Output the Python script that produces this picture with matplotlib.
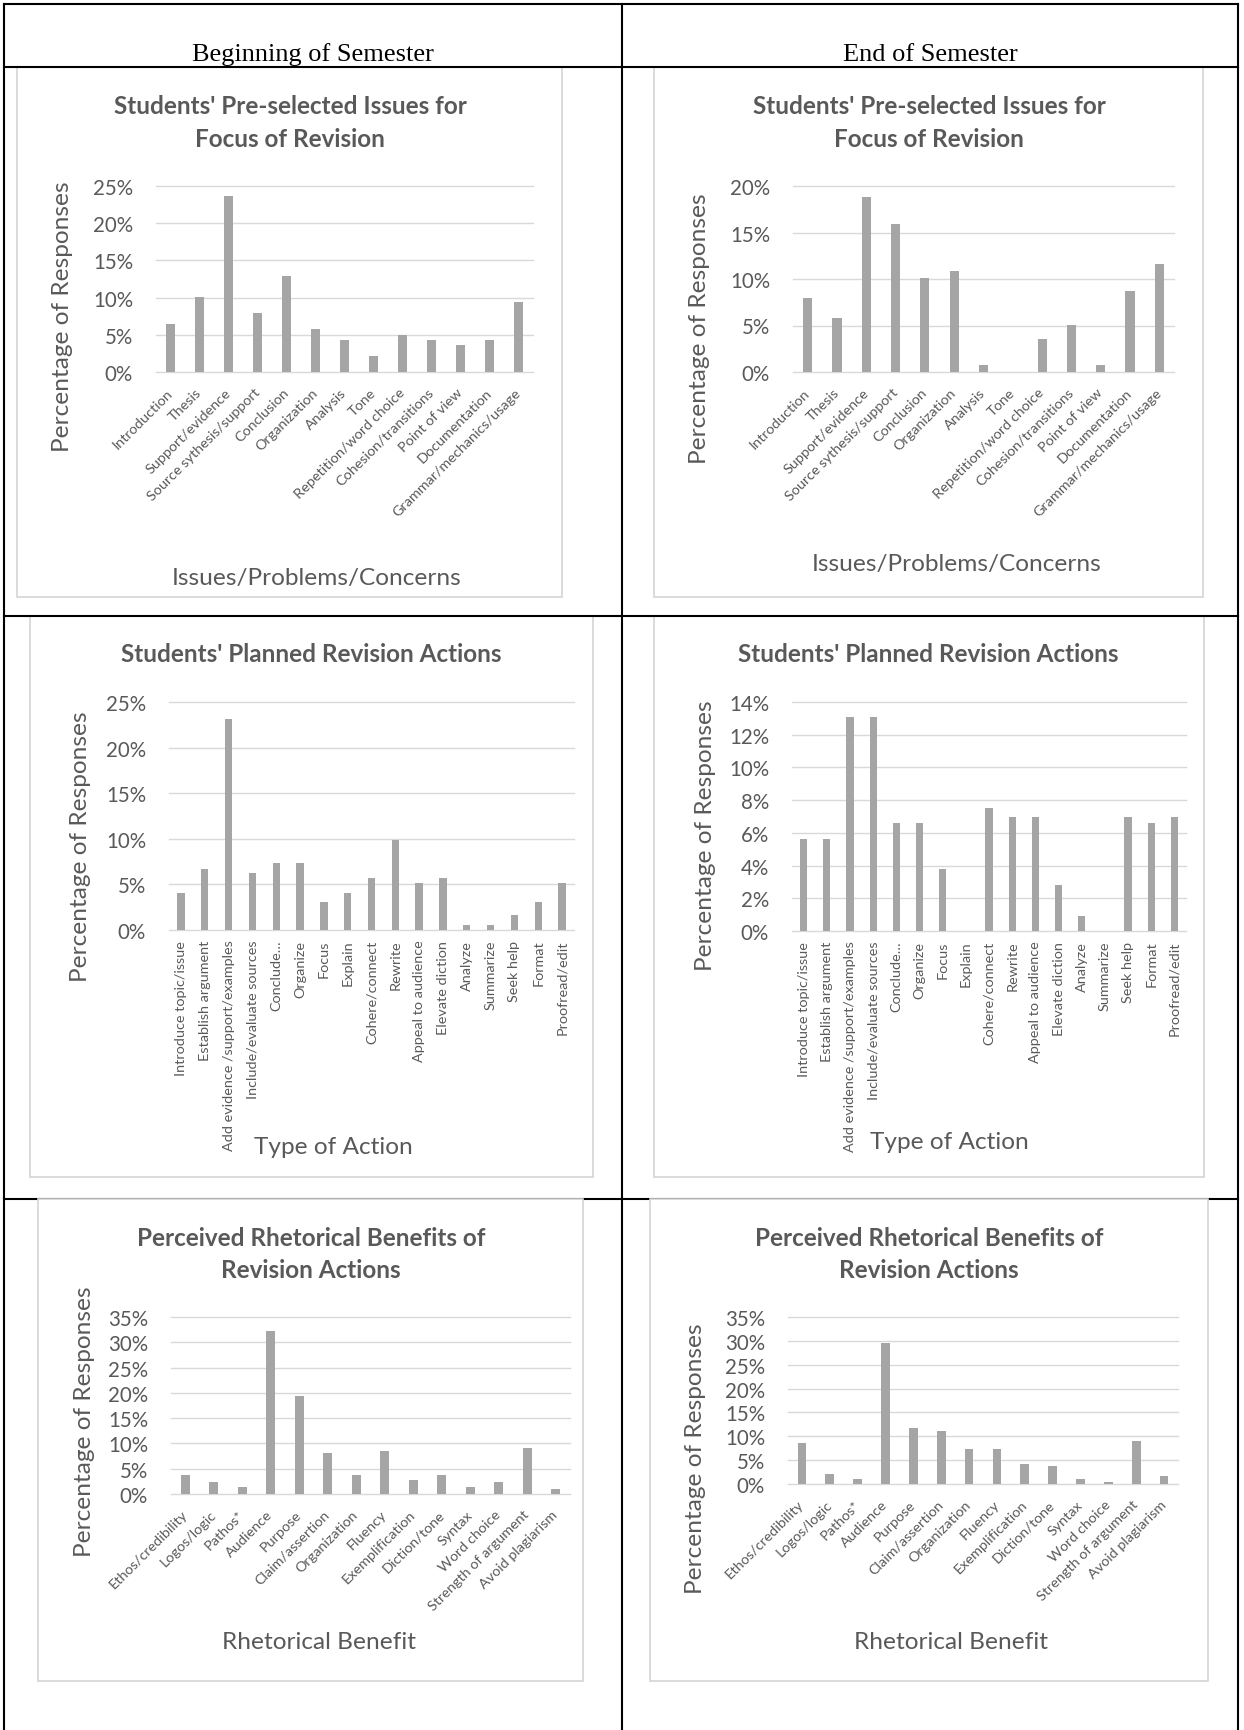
import matplotlib
matplotlib.use("Agg")
import matplotlib.pyplot as plt
from matplotlib.lines import Line2D
from matplotlib.patches import Rectangle
from matplotlib.ticker import PercentFormatter, MultipleLocator

plt.rcParams['font.family'] = ['Lato', 'DejaVu Sans']

W, H = 1244, 1731
TEXT = "#595959"
BAR = "#A5A5A5"
GRID = "#D9D9D9"

# ---- data (percent of responses) ----
issues = ["Introduction", "Thesis", "Support/evidence", "Source sythesis/support",
          "Conclusion", "Organization", "Analysis", "Tone", "Repetition/word choice",
          "Cohesion/transitions", "Point of view", "Documentation",
          "Grammar/mechanics/usage"]
issues_begin = [6.5, 10.1, 23.7, 7.9, 12.9, 5.8, 4.3, 2.2, 5.0, 4.3, 3.6, 4.3, 9.4]
issues_end = [8.0, 5.8, 18.8, 15.9, 10.1, 10.9, 0.7, 0.0, 3.6, 5.1, 0.7, 8.7, 11.6]

actions = ["Introduce topic/issue", "Establish argument", "Add evidence /support/examples",
           "Include/evaluate sources", "Conclude\u2026", "Organize", "Focus", "Explain",
           "Cohere/connect", "Rewrite", "Appeal to audience", "Elevate diction",
           "Analyze", "Summarize", "Seek help", "Format", "Proofread/edit"]
actions_begin = [4.1, 6.7, 23.1, 6.2, 7.3, 7.3, 3.1, 4.1, 5.7, 9.9, 5.2, 5.7,
                 0.5, 0.5, 1.6, 3.1, 5.2]
actions_end = [5.6, 5.6, 13.1, 13.1, 6.6, 6.6, 3.8, 0.0, 7.5, 7.0, 7.0, 2.8,
               0.9, 0.0, 7.0, 6.6, 7.0]

benefits = ["Ethos/credibility", "Logos/logic", "Pathos*", "Audience", "Purpose",
            "Claim/assertion", "Organization", "Fluency", "Exemplification",
            "Diction/tone", "Syntax", "Word choice", "Strength of argument",
            "Avoid plagiarism"]
benefits_begin = [3.8, 2.4, 1.4, 32.2, 19.4, 8.1, 3.8, 8.5, 2.8, 3.8, 1.4, 2.4, 9.0, 0.9]
benefits_end = [8.6, 2.1, 1.0, 29.6, 11.7, 11.2, 7.4, 7.4, 4.2, 3.7, 1.0, 0.5, 9.0, 1.6]


def fx(x):
    return x / W


def fy(y):
    return 1 - y / H


fig = plt.figure(figsize=(W / 100, H / 100), dpi=100)


def hline(y, x0, x1, z):
    fig.add_artist(Line2D([fx(x0), fx(x1)], [fy(y), fy(y)], color="black",
                          lw=1.5, transform=fig.transFigure, zorder=z))


def vline(x, y0, y1, z):
    fig.add_artist(Line2D([fx(x), fx(x)], [fy(y0), fy(y1)], color="black",
                          lw=1.5, transform=fig.transFigure, zorder=z))


# table grid
hline(5, 3.5, 1238, -1)
hline(68, 3.5, 1238, -1)
hline(617, 3.5, 1238, -1)
hline(1200, 3.5, 1238, -3)
vline(3.5, 5, H, -1)
vline(622, 5, H, -1)
vline(1238, 5, H, -1)

fig.text(fx(313), fy(61), "Beginning of Semester", family="Liberation Serif",
         fontsize=19, ha="center", va="baseline", color="black")
fig.text(fx(930), fy(61), "End of Semester", family="Liberation Serif",
         fontsize=19, ha="center", va="baseline", color="black")


def chart(box, plot, labels, values, ymax, step, title, title_y, title_x,
          xlabel, xlabel_pos, ylabel_pos, rot):
    bx0, by0, bx1, by1 = box
    fig.add_artist(Rectangle((fx(bx0), fy(by1)), (bx1 - bx0) / W, (by1 - by0) / H,
                             facecolor="white", edgecolor="#D4D4D4", lw=1.2,
                             transform=fig.transFigure, zorder=-2))
    px0, py0, px1, py1 = plot
    ax = fig.add_axes([fx(px0), fy(py1), (px1 - px0) / W, (py1 - py0) / H])
    ax.set_facecolor("none")
    n = len(labels)
    ax.bar(range(n), values, width=0.31, color=BAR, zorder=2)
    ax.set_xlim(-0.5, n - 0.5)
    ax.set_ylim(0, ymax)
    ax.yaxis.set_major_locator(MultipleLocator(step))
    ax.yaxis.set_major_formatter(PercentFormatter(decimals=0))
    ax.grid(axis="y", color=GRID, lw=1.0, zorder=0)
    for g in ax.get_ygridlines():
        g.set_clip_on(False)
    for s in ax.spines.values():
        s.set_visible(False)
    ax.tick_params(axis="y", length=0, pad=16.5, labelsize=14.8, labelcolor=TEXT)
    ax.set_xticks(range(n))
    if rot == 90:
        ax.set_xticklabels(labels, rotation=90, ha="center", va="top")
        ax.tick_params(axis="x", length=0, pad=7, labelsize=10.4, labelcolor=TEXT)
    else:
        ax.set_xticklabels(labels, rotation=45, ha="right", va="center",
                           rotation_mode="anchor")
        ax.tick_params(axis="x", length=0, pad=13, labelsize=10.4, labelcolor=TEXT)
    for line, ty in zip(title, title_y):
        fig.text(fx(title_x), fy(ty), line, fontsize=17.5, fontweight="bold",
                 color=TEXT, ha="center", va="baseline")
    fig.text(fx(xlabel_pos[0]), fy(xlabel_pos[1]), xlabel, fontsize=17.6,
             color=TEXT, ha="center", va="center")
    fig.text(fx(ylabel_pos[0]), fy(ylabel_pos[1]), "Percentage of Responses",
             fontsize=17.6, color=TEXT, ha="center", va="center", rotation=90)
    return ax


issues_title = ["Students' Pre-selected Issues for", "Focus of Revision"]
actions_title = ["Students' Planned Revision Actions"]
benefits_title = ["Perceived Rhetorical Benefits of", "Revision Actions"]

chart((17, 68, 562, 598), (156, 187, 533, 373), issues, issues_begin, 25, 5,
      issues_title, [114, 147], 290, "Issues/Problems/Concerns", (317, 579),
      (63, 317), 45)
chart((654, 68, 1203, 598), (793, 187, 1174, 373), issues, issues_end, 20, 5,
      issues_title, [114, 147], 929, "Issues/Problems/Concerns", (957, 565),
      (699, 329), 45)
chart((30, 617, 593, 1178), (169, 703, 574, 931), actions, actions_begin, 25, 5,
      actions_title, [662], 311, "Type of Action", (333, 1147),
      (81, 847), 90)
chart((654, 617, 1204, 1178), (792, 703, 1186, 932), actions, actions_end, 14, 2,
      actions_title, [662], 928, "Type of Action", (949, 1143),
      (705, 836), 90)
chart((38, 1200, 583, 1682), (171, 1318, 570, 1495), benefits, benefits_begin, 35, 5,
      benefits_title, [1246, 1278], 311, "Rhetorical Benefit", (319, 1643),
      (85, 1422), 45)
chart((650, 1200, 1208, 1682), (788, 1318, 1178, 1485), benefits, benefits_end, 35, 5,
      benefits_title, [1246, 1278], 929, "Rhetorical Benefit", (951, 1643),
      (695, 1459), 45)

fig.savefig("out.png", dpi=100, facecolor="white")
